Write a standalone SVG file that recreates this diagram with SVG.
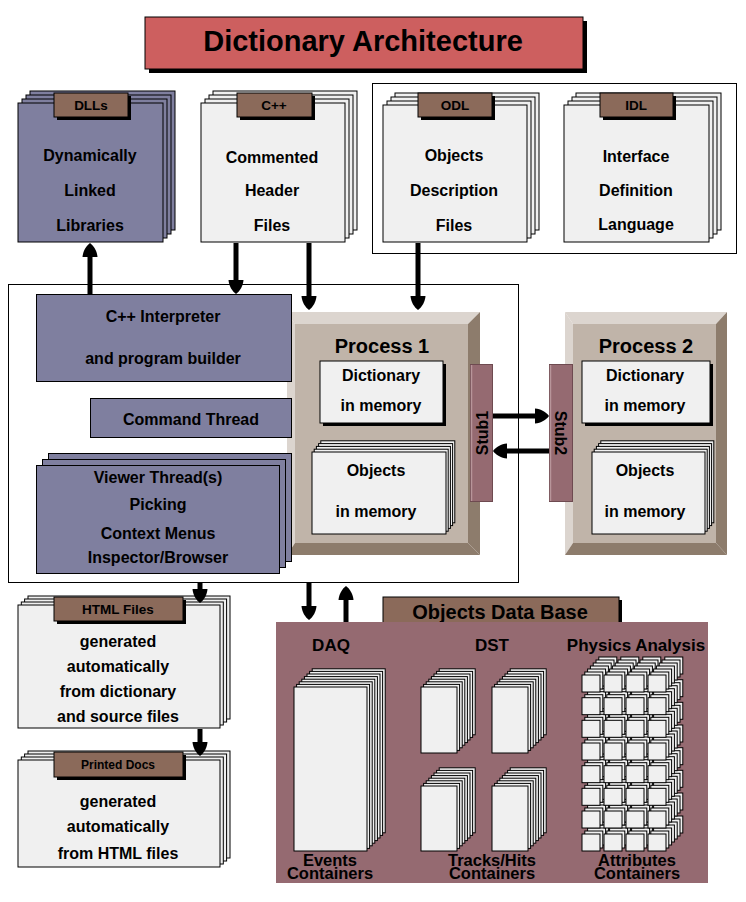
<svg xmlns="http://www.w3.org/2000/svg" xmlns:xlink="http://www.w3.org/1999/xlink" width="746" height="902" viewBox="0 0 746 902">
<style>
text{font-family:"Liberation Sans",Arial,Helvetica,sans-serif;font-weight:bold;text-anchor:middle;fill:#000}
.pg{fill:#f0f0f0;stroke:#000;stroke-width:1}
.pp{fill:#7f7f9f;stroke:#000;stroke-width:1}
.tab{fill:#8b6a5a;stroke:#000;stroke-width:1}
.sh{fill:#000}
.frame{fill:none;stroke:#000;stroke-width:1}
.lt{fill:#dcd5cf}.fc{fill:#c0b4a9}.dk{fill:#8d7c6c}
.stub{fill:#956a71;stroke:#6e4a50;stroke-width:1}
.db{fill:#956a71}
.b16{font-size:16px}
.b17{font-size:17px}
.cap{font-size:16.5px}
.t13{font-size:13.5px}
.ln{stroke:#000;stroke-width:5;fill:none;marker-end:url(#ah)}
</style>
<defs>
<marker id="ah" markerUnits="userSpaceOnUse" markerWidth="16" markerHeight="16" refX="5" refY="8" orient="auto" viewBox="0 0 16 16">
<path d="M0,0.5 C6,1 11,4 14,8 C11,12 6,15 0,15.5 Z" fill="#000"/>
</marker>
<rect id="daqp" class="pg" width="73" height="164"/>
<rect id="dstp" class="pg" width="36" height="66"/>
<rect id="dstq" class="pg" width="36" height="65"/>
<g id="prow">
<rect class="pg" x="0" y="0" width="18" height="17"/>
<rect class="pg" x="22" y="0" width="18" height="17"/>
<rect class="pg" x="44" y="0" width="18" height="17"/>
<rect class="pg" x="66" y="0" width="18" height="17"/>
</g>
<g id="pcol">
<use xlink:href="#prow" y="0"/>
<use xlink:href="#prow" y="22.7"/>
<use xlink:href="#prow" y="45.3"/>
<use xlink:href="#prow" y="68"/>
<use xlink:href="#prow" y="90.7"/>
<use xlink:href="#prow" y="113.3"/>
<use xlink:href="#prow" y="136"/>
<use xlink:href="#prow" y="159"/>
</g>
</defs>
<rect width="746" height="902" fill="#fff"/>

<g id="title">
<rect class="sh" x="149" y="21" width="438" height="52"/>
<rect x="145" y="17" width="438" height="52" fill="#cd5f5f" stroke="#000"/>
<text x="363" y="51" style="font-size:29px">Dictionary Architecture</text>
</g>

<g id="frames">
<rect class="frame" x="372.5" y="83.5" width="364" height="170"/>
<rect class="frame" x="8.5" y="284.5" width="510" height="298"/>
</g>

<g id="dlls">
<rect class="pp" x="30" y="91" width="145" height="139"/>
<rect class="pp" x="26" y="95" width="145" height="139"/>
<rect class="pp" x="22" y="99" width="145" height="139"/>
<rect class="pp" x="18" y="103" width="145" height="139"/>
<rect class="sh" x="57" y="96" width="74" height="24"/>
<rect class="tab" x="54" y="93" width="74" height="24"/>
<text class="t13" x="91" y="110">DLLs</text>
<text class="b16" x="90" y="161">Dynamically</text>
<text class="b16" x="90" y="196">Linked</text>
<text class="b16" x="90" y="231">Libraries</text>
</g>

<g id="cpp">
<rect class="pg" x="213" y="91" width="144" height="139"/>
<rect class="pg" x="209" y="95" width="144" height="139"/>
<rect class="pg" x="205" y="99" width="144" height="139"/>
<rect class="pg" x="201" y="103" width="144" height="139"/>
<rect class="sh" x="240" y="96" width="75" height="24"/>
<rect class="tab" x="237" y="93" width="75" height="24"/>
<text class="t13" x="274" y="110">C++</text>
<text class="b16" x="272" y="163">Commented</text>
<text class="b16" x="272" y="196">Header</text>
<text class="b16" x="272" y="231">Files</text>
</g>

<g id="odl">
<rect class="pg" x="395" y="93" width="144" height="137"/>
<rect class="pg" x="391" y="97" width="144" height="137"/>
<rect class="pg" x="387" y="101" width="144" height="137"/>
<rect class="pg" x="383" y="105" width="144" height="137"/>
<rect class="sh" x="421" y="96" width="74" height="24"/>
<rect class="tab" x="418" y="93" width="74" height="24"/>
<text class="t13" x="455" y="110">ODL</text>
<text class="b16" x="454" y="161">Objects</text>
<text class="b16" x="454" y="196">Description</text>
<text class="b16" x="454" y="231">Files</text>
</g>

<g id="idl">
<rect class="pg" x="576" y="93" width="145" height="137"/>
<rect class="pg" x="572" y="97" width="145" height="137"/>
<rect class="pg" x="568" y="101" width="145" height="137"/>
<rect class="pg" x="564" y="105" width="145" height="137"/>
<rect class="sh" x="603" y="96" width="73" height="24"/>
<rect class="tab" x="600" y="93" width="73" height="24"/>
<text class="t13" x="636" y="110">IDL</text>
<text class="b16" x="636" y="162">Interface</text>
<text class="b16" x="636" y="196">Definition</text>
<text class="b16" x="636" y="230">Language</text>
</g>

<g id="process1">
<polygon class="lt" points="287,312 480,312 468,324 295,324"/>
<polygon class="lt" points="287,312 295,324 295,543 287,555"/>
<polygon class="dk" points="480,312 480,555 468,543 468,324"/>
<polygon class="dk" points="287,555 480,555 468,543 295,543"/>
<rect class="fc" x="295" y="324" width="173" height="219"/>
<text x="382" y="353" style="font-size:20px">Process 1</text>
<rect class="sh" x="323" y="364" width="123" height="62"/>
<rect class="pg" x="320" y="361" width="123" height="62"/>
<text class="b16" x="381" y="381">Dictionary</text>
<text class="b16" x="381" y="411">in memory</text>
<rect class="pg" x="320.8" y="440.8" width="134" height="82"/>
<rect class="pg" x="318.6" y="443.6" width="134" height="82"/>
<rect class="pg" x="316.4" y="446.4" width="134" height="82"/>
<rect class="pg" x="314.2" y="449.2" width="134" height="82"/>
<rect class="pg" x="312" y="452" width="134" height="82"/>
<text class="b16" x="376" y="476">Objects</text>
<text class="b16" x="376" y="517">in memory</text>
</g>

<g id="process2">
<polygon class="lt" points="565,312 727,312 716,324 573,324"/>
<polygon class="lt" points="565,312 573,324 573,543 565,555"/>
<polygon class="dk" points="727,312 727,555 716,543 716,324"/>
<polygon class="dk" points="565,555 727,555 716,543 573,543"/>
<rect class="fc" x="573" y="324" width="143" height="219"/>
<text x="646" y="353" style="font-size:20px">Process 2</text>
<rect class="sh" x="585" y="364" width="128" height="62"/>
<rect class="pg" x="582" y="361" width="128" height="62"/>
<text class="b16" x="645" y="381">Dictionary</text>
<text class="b16" x="645" y="411">in memory</text>
<rect class="pg" x="600.8" y="440.8" width="113" height="82"/>
<rect class="pg" x="598.6" y="443.6" width="113" height="82"/>
<rect class="pg" x="596.4" y="446.4" width="113" height="82"/>
<rect class="pg" x="594.2" y="449.2" width="113" height="82"/>
<rect class="pg" x="592" y="452" width="113" height="82"/>
<text class="b16" x="645" y="476">Objects</text>
<text class="b16" x="645" y="517">in memory</text>
</g>

<g id="stub1">
<rect class="stub" x="470.5" y="364.5" width="22" height="137"/>
<line x1="471.5" y1="365" x2="471.5" y2="501" stroke="#b8959a" stroke-width="1.5"/>
<text transform="translate(481.5,433) rotate(-90)" x="0" y="6" style="font-size:16px">Stub1</text>
</g>
<g id="stub2">
<rect class="stub" x="549.5" y="364.5" width="23" height="137"/>
<line x1="550.5" y1="365" x2="550.5" y2="501" stroke="#b8959a" stroke-width="1.5"/>
<text transform="translate(561,433) rotate(90)" x="0" y="6" style="font-size:16px">Stub2</text>
</g>

<g id="interpreter">
<rect class="pp" x="36.5" y="294.5" width="255" height="87"/>
<text class="b16" x="163" y="322">C++ Interpreter</text>
<text class="b16" x="163" y="364">and program builder</text>
</g>

<g id="command">
<rect class="pp" x="90.5" y="398.5" width="201" height="39"/>
<text class="b16" x="191" y="425">Command Thread</text>
</g>

<g id="viewer">
<rect class="pp" x="48.5" y="453.5" width="243" height="108"/>
<rect class="pp" x="42.5" y="459.5" width="243" height="108"/>
<rect class="pp" x="36.5" y="465.5" width="243" height="108"/>
<text class="b16" x="158" y="483">Viewer Thread(s)</text>
<text class="b16" x="158" y="510">Picking</text>
<text class="b16" x="158" y="539">Context Menus</text>
<text class="b16" x="158" y="563">Inspector/Browser</text>
</g>

<g id="html">
<rect class="pg" x="28" y="596" width="202" height="123"/>
<rect class="pg" x="24.6" y="599" width="202" height="123"/>
<rect class="pg" x="21.3" y="602" width="202" height="123"/>
<rect class="pg" x="18" y="605" width="202" height="123"/>
<rect class="sh" x="57" y="600" width="129" height="24"/>
<rect class="tab" x="54" y="597" width="129" height="24"/>
<text class="t13" x="118" y="614">HTML Files</text>
<text class="b16" x="118" y="647">generated</text>
<text class="b16" x="118" y="672">automatically</text>
<text class="b16" x="118" y="697">from dictionary</text>
<text class="b16" x="118" y="722">and source files</text>
</g>

<g id="printed">
<rect class="pg" x="28" y="751" width="202" height="107"/>
<rect class="pg" x="24.6" y="754" width="202" height="107"/>
<rect class="pg" x="21.3" y="757" width="202" height="107"/>
<rect class="pg" x="18" y="760" width="202" height="107"/>
<rect class="sh" x="57" y="755" width="129" height="25"/>
<rect class="tab" x="54" y="752" width="129" height="25"/>
<text x="118" y="769" style="font-size:12px">Printed Docs</text>
<text class="b16" x="118" y="807">generated</text>
<text class="b16" x="118" y="832">automatically</text>
<text class="b16" x="118" y="859">from HTML files</text>
</g>

<g id="objectsdb">
<rect class="sh" x="386" y="600" width="236" height="26"/>
<rect class="tab" x="383" y="597" width="236" height="26"/>
<text x="500" y="619" style="font-size:20px">Objects Data Base</text>
<rect class="db" x="276" y="622" width="432" height="261"/>
</g>

<g id="daq">
<text class="b17" x="331" y="651">DAQ</text>
<use xlink:href="#daqp" x="312.2" y="668.8"/>
<use xlink:href="#daqp" x="309.6" y="671.4"/>
<use xlink:href="#daqp" x="307" y="674"/>
<use xlink:href="#daqp" x="304.4" y="676.6"/>
<use xlink:href="#daqp" x="301.8" y="679.2"/>
<use xlink:href="#daqp" x="299.2" y="681.8"/>
<use xlink:href="#daqp" x="296.6" y="684.4"/>
<use xlink:href="#daqp" x="294" y="687"/>
<text class="cap" x="330" y="866">Events</text>
<text class="cap" x="330" y="879">Containers</text>
</g>

<g id="dst">
<text class="b17" x="492" y="651">DST</text>
<use xlink:href="#dstp" x="439.2" y="668.8"/>
<use xlink:href="#dstp" x="436.6" y="671.4"/>
<use xlink:href="#dstp" x="434" y="674"/>
<use xlink:href="#dstp" x="431.4" y="676.6"/>
<use xlink:href="#dstp" x="428.8" y="679.2"/>
<use xlink:href="#dstp" x="426.2" y="681.8"/>
<use xlink:href="#dstp" x="423.6" y="684.4"/>
<use xlink:href="#dstp" x="421" y="687"/>
<use xlink:href="#dstp" x="510.2" y="668.8"/>
<use xlink:href="#dstp" x="507.6" y="671.4"/>
<use xlink:href="#dstp" x="505" y="674"/>
<use xlink:href="#dstp" x="502.4" y="676.6"/>
<use xlink:href="#dstp" x="499.8" y="679.2"/>
<use xlink:href="#dstp" x="497.2" y="681.8"/>
<use xlink:href="#dstp" x="494.6" y="684.4"/>
<use xlink:href="#dstp" x="492" y="687"/>
<use xlink:href="#dstq" x="439.2" y="767.8"/>
<use xlink:href="#dstq" x="436.6" y="770.4"/>
<use xlink:href="#dstq" x="434" y="773"/>
<use xlink:href="#dstq" x="431.4" y="775.6"/>
<use xlink:href="#dstq" x="428.8" y="778.2"/>
<use xlink:href="#dstq" x="426.2" y="780.8"/>
<use xlink:href="#dstq" x="423.6" y="783.4"/>
<use xlink:href="#dstq" x="421" y="786"/>
<use xlink:href="#dstq" x="510.2" y="767.8"/>
<use xlink:href="#dstq" x="507.6" y="770.4"/>
<use xlink:href="#dstq" x="505" y="773"/>
<use xlink:href="#dstq" x="502.4" y="775.6"/>
<use xlink:href="#dstq" x="499.8" y="778.2"/>
<use xlink:href="#dstq" x="497.2" y="780.8"/>
<use xlink:href="#dstq" x="494.6" y="783.4"/>
<use xlink:href="#dstq" x="492" y="786"/>
<text class="cap" x="492" y="866">Tracks/Hits</text>
<text class="cap" x="492" y="879">Containers</text>
</g>

<g id="physics">
<text class="b17" x="636" y="651">Physics Analysis</text>
<use xlink:href="#pcol" x="598.8" y="657"/>
<use xlink:href="#pcol" x="596" y="660"/>
<use xlink:href="#pcol" x="593.2" y="663"/>
<use xlink:href="#pcol" x="590.4" y="666"/>
<use xlink:href="#pcol" x="587.6" y="669"/>
<use xlink:href="#pcol" x="584.8" y="672"/>
<use xlink:href="#pcol" x="582" y="675"/>
<text class="cap" x="637" y="866">Attributes</text>
<text class="cap" x="637" y="879">Containers</text>
</g>

<g id="connectors">
<path class="ln" d="M90,294 V252"/>
<path class="ln" d="M236,243 V285"/>
<path class="ln" d="M309,243 V301"/>
<path class="ln" d="M418,243 V301"/>
<path class="ln" d="M493,416 H540"/>
<path class="ln" d="M549,451 H502"/>
<path class="ln" d="M200,583 V594"/>
<path class="ln" d="M200,729 V747"/>
<path class="ln" d="M309,583 V611"/>
<path class="ln" d="M346,622 V595"/>
</g>
</svg>
